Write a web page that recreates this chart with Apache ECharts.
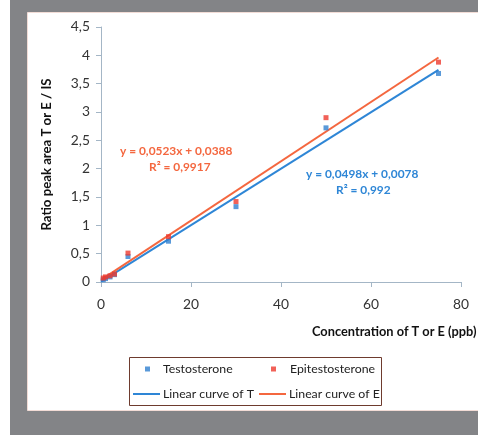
<!DOCTYPE html>
<html><head><meta charset="utf-8">
<script src="https://cdn.jsdelivr.net/npm/echarts@6/dist/echarts.min.js"></script>
<style>html,body{margin:0;padding:0;background:#fff}#c{width:478px;height:435px}</style>
</head><body><div id="c"></div>
<script>
var concentrations = [0.5, 1, 2, 3, 6, 15, 30, 50, 75];
var testosterone   = [0.04, 0.06, 0.09, 0.13, 0.45, 0.72, 1.33, 2.72, 3.68];
var epitestosterone= [0.07, 0.09, 0.11, 0.14, 0.51, 0.80, 1.42, 2.90, 3.88];
var fitT = {slope: 0.0498, intercept: 0.0078, r2: '0,992'};
var fitE = {slope: 0.0523, intercept: 0.0388, r2: '0,9917'};
var fitRange = [0, 75];
var yTicks = {min: 0, max: 4.5, interval: 0.5};
var xTicks = {min: 0, max: 80, interval: 20};
var seriesNames = ['Testosterone', 'Epitestosterone', 'Linear curve of T', 'Linear curve of E'];
var xTitle = 'Concentration of T or E (ppb)';
var yTitle = 'Ratio peak area T or E / IS';

function pairs(xs, ys){ return xs.map(function(x,i){ return [x, ys[i]]; }); }
function fitLine(f){ return fitRange.map(function(x){ return [x, f.slope*x + f.intercept]; }); }
function comma(v){ return String(v).replace('.', ','); }

var FONT = 'Lato';
var mctx = document.createElement('canvas').getContext('2d');
function fitSize(text, weight, target){
  mctx.font = weight + ' 20px ' + FONT;
  return Math.round(20 * target / mctx.measureText(text).width * 10) / 10;
}
var eqE = 'y = ' + comma(fitE.slope) + 'x + ' + comma(fitE.intercept);
var eqT = 'y = ' + comma(fitT.slope) + 'x + ' + comma(fitT.intercept);
var yTitleSize = fitSize(yTitle, 'bold', 152);
var xTitleSize = fitSize(xTitle, 'bold', 165);
var annSize = fitSize(eqE, 'bold', 112);
var legSize = fitSize(seriesNames[2], 'normal', 91);
var tickSize = fitSize('80', 'normal', 16);

var blue = '#2F7FD0', red = '#EE3A2E', blueLine = '#2E86D6', redLine = '#F4673F';
var axisCol = '#A4B6C6';
var legText = {fontSize:legSize, color:'#222', fontFamily:FONT};
var chart = echarts.init(document.getElementById('c'), null, {renderer:'canvas'});
chart.setOption({
  animation: false,
  backgroundColor: '#fff',
  textStyle: {fontFamily: FONT},
  graphic: [
    {type:'rect', z:-10, silent:true, shape:{x:10,y:0,width:468,height:435}, style:{fill:'#838487'}},
    {type:'rect', z:-9, silent:true, shape:{x:27.5,y:12.5,width:452,height:398}, style:{fill:'#fff', stroke:'#F2DCD6', lineWidth:1}},
    {type:'rect', z:50, silent:true, shape:{x:129.5,y:357.5,width:252,height:48}, style:{fill:'none', stroke:'#6E3B2E', lineWidth:1}},
    {type:'rect', z:49, silent:true, shape:{x:382.5,y:358,width:40,height:47}, style:{fill:'#fff'}},
    {type:'text', z:10, left:312, top:325, style:{text:xTitle, font:'bold '+xTitleSize+'px '+FONT, fill:'#111', verticalAlign:'middle'}},
    {type:'text', z:10, left:120, top:145, style:{text:eqE, font:'bold '+annSize+'px '+FONT, fill:redLine}},
    {type:'text', z:10, left:149, top:161, style:{text:'R² = ' + fitE.r2, font:'bold '+annSize+'px '+FONT, fill:redLine}},
    {type:'text', z:10, left:306, top:168, style:{text:eqT, font:'bold '+annSize+'px '+FONT, fill:blueLine}},
    {type:'text', z:10, left:336, top:184, style:{text:'R² = ' + fitT.r2, font:'bold '+annSize+'px '+FONT, fill:blueLine}}
  ],
  grid: {left:101, top:27, right:17, bottom:153, containLabel:false},
  xAxis: {
    type:'value', min:xTicks.min, max:xTicks.max, interval:xTicks.interval,
    splitLine:{show:false},
    axisLine:{onZero:false, lineStyle:{color:axisCol}},
    axisTick:{show:true, length:5, lineStyle:{color:axisCol}},
    axisLabel:{color:'#333', fontSize:tickSize, margin:16, fontFamily:FONT}
  },
  yAxis: {
    type:'value', min:yTicks.min, max:yTicks.max, interval:yTicks.interval,
    splitLine:{show:false},
    axisLine:{show:true, lineStyle:{color:axisCol}},
    axisTick:{show:true, length:5, lineStyle:{color:axisCol}},
    axisLabel:{color:'#333', fontSize:tickSize, margin:11, fontFamily:FONT, formatter:function(v){return comma(v);}},
    name: yTitle, nameLocation:'middle', nameGap:48,
    nameTextStyle:{fontWeight:'bold', fontSize:yTitleSize, color:'#111', fontFamily:FONT}
  },
  legend: [
    {left:145, top:363, itemWidth:5, itemHeight:5, itemGap:0, padding:0, data:[{name:seriesNames[0], icon:'rect'}], textStyle:Object.assign({padding:[0,0,0,8]}, legText)},
    {left:271, top:363, itemWidth:5, itemHeight:5, itemGap:0, padding:0, data:[{name:seriesNames[1], icon:'rect'}], textStyle:Object.assign({padding:[0,0,0,9]}, legText)},
    {left:133, top:388, itemWidth:27, itemHeight:2, itemGap:0, padding:0, data:[{name:seriesNames[2], icon:'rect'}], textStyle:Object.assign({padding:[0,0,0,-2]}, legText)},
    {left:259, top:388, itemWidth:27, itemHeight:2, itemGap:0, padding:0, data:[{name:seriesNames[3], icon:'rect'}], textStyle:Object.assign({padding:[0,0,0,-2]}, legText)}
  ],
  series: [
    {name:seriesNames[0], type:'scatter', symbol:'rect', symbolSize:5, itemStyle:{color:blue}, data:pairs(concentrations, testosterone), z:4},
    {name:seriesNames[1], type:'scatter', symbol:'rect', symbolSize:5, itemStyle:{color:red}, data:pairs(concentrations, epitestosterone), z:4},
    {name:seriesNames[2], type:'line', symbol:'none', showSymbol:false, lineStyle:{color:blueLine, width:2}, itemStyle:{color:blueLine}, data:fitLine(fitT), z:3},
    {name:seriesNames[3], type:'line', symbol:'none', showSymbol:false, lineStyle:{color:redLine, width:2}, itemStyle:{color:redLine}, data:fitLine(fitE), z:3}
  ]
});
</script></body></html>
